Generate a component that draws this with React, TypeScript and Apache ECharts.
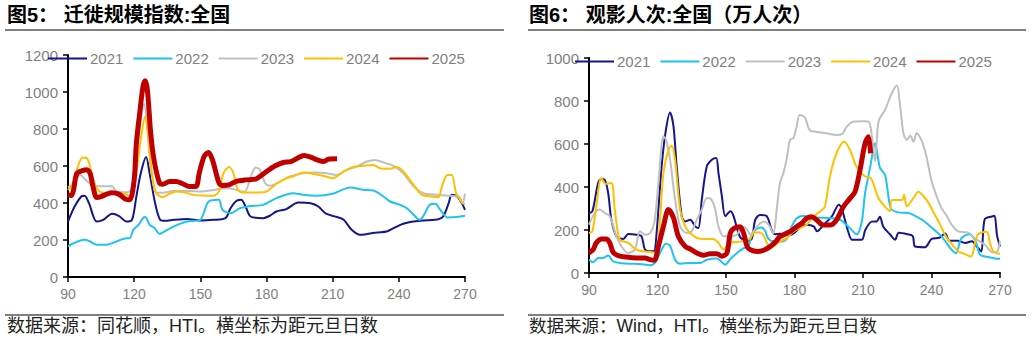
import React, { useEffect, useRef } from "react";
import * as echarts from "echarts";

const years = ["2021", "2022", "2023", "2024", "2025"];
const colors = ["#15158C", "#1EC3F3", "#BFBFBF", "#FFC000", "#C00000"];
const widths = [2, 2, 2, 2, 5];
const xMin = 90;
const xMax = 270;
const xInterval = 30;

// 图5 迁徙规模指数 [距元旦日数, 值]
const migration2021: [number, number][] = [
  [90, 300], [93, 381], [96, 435], [97.5, 439], [99.5, 399], [103, 300], [106, 309], [110, 342], [113, 331],
  [116.5, 300], [119, 309], [121, 435], [123, 561], [125.4, 648], [127, 561], [129.5, 399], [131.8, 309],
  [134, 304], [138, 309], [144, 313], [150, 306], [156, 309], [161.4, 318], [163.7, 372], [166.7, 414],
  [168.5, 417], [170.5, 381], [172.8, 327], [178.5, 318], [181.5, 331], [184.5, 354], [189, 367], [194.4, 403],
  [200, 399], [203.5, 381], [207, 342], [212, 324], [215, 309], [218.6, 255], [222.4, 228], [225.5, 232],
  [230, 241], [234.5, 246], [237.6, 264], [242, 288], [246.7, 300], [251, 306], [256.5, 309], [260, 327],
  [262.6, 399], [264, 444], [266.4, 435], [268.6, 399], [270, 363],
];
const migration2022: [number, number][] = [
  [90, 165], [92, 180], [97.5, 201], [100, 192], [103, 175], [107.5, 175], [112, 192], [116.6, 210], [118, 210],
  [119.6, 255], [122, 282], [124, 318], [125, 324], [127, 282], [129.3, 264], [131.5, 234], [135, 255],
  [139.6, 282], [144, 300], [150, 309], [151.5, 345], [153.8, 408], [158.4, 417], [160, 363], [163.7, 345],
  [168, 372], [172, 383], [178.5, 390], [184.5, 426], [192, 453], [196.7, 444], [202.7, 439], [210, 450],
  [218, 484], [224, 471], [228.5, 468], [233, 435], [236, 408], [240.6, 390], [243.6, 372], [246.7, 336],
  [249.4, 309], [251, 327], [254, 390], [256.5, 396], [258.8, 363], [262, 322], [266.4, 324], [270, 331],
];
const migration2023: [number, number][] = [
  [90, 485], [92, 500], [95.6, 551], [98, 525], [101, 495], [104, 490], [110, 490], [112, 462], [117, 458],
  [119, 480], [121, 650], [123, 850], [124.5, 935], [126, 800], [127.5, 600], [129.5, 462], [132, 455],
  [138, 465], [145, 465], [150, 462], [156, 470], [162, 480], [165, 475], [170, 460], [172.8, 540], [175, 592],
  [177, 579], [179.4, 507], [181.7, 493], [186.2, 516], [190.6, 543], [196.7, 561], [202.7, 565], [207.3, 561],
  [211.8, 552], [216.4, 579], [220.9, 597], [225.5, 624], [229.2, 633], [233, 619], [237.6, 601], [242, 561],
  [246.7, 489], [251.2, 453], [257.3, 444], [263.3, 439], [267.1, 435], [268.9, 399], [270, 450],
];
const migration2024: [number, number][] = [
  [90, 470], [92, 500], [94, 580], [96.5, 645], [98, 645], [99.5, 620], [101, 540], [103, 480], [105, 458],
  [108, 455], [112, 455], [116, 450], [118.5, 432], [120.5, 520], [122.5, 700], [125, 867], [126.5, 741],
  [128, 561], [130, 453], [133, 432], [136, 450], [139, 462], [142, 460], [147, 444], [151, 440], [156, 439],
  [158.4, 462], [160.5, 561], [163, 594], [165, 561], [167, 471], [169.5, 457], [177, 457], [180, 462],
  [184.5, 504], [189, 534], [192, 543], [196.7, 565], [202.7, 554], [207, 543], [210, 534], [215, 570],
  [219, 594], [224, 601], [228.5, 606], [231.5, 588], [236, 585], [239, 594], [242, 570], [246.7, 498],
  [250.5, 444], [255, 435], [258, 432], [259.5, 489], [262, 552], [264, 552], [266, 453], [269, 399], [270, 396],
];
const migration2025: [number, number][] = [
  [90, 444], [91.5, 440], [92.5, 470], [94, 560], [96.5, 575], [98.5, 580], [100, 561], [101.5, 480], [103, 430],
  [105, 435], [108, 450], [110, 455], [113, 448], [116, 421], [118, 417], [120, 525], [121, 723], [122.5, 885],
  [124, 1029], [125, 1061], [126, 1011], [127.5, 777], [129, 633], [131.5, 507], [133, 502], [136, 516],
  [139, 516], [142, 504], [145, 489], [148, 489], [149.5, 561], [151.7, 651], [153.7, 673], [155.5, 633],
  [158.5, 507], [160, 495], [163, 498], [166, 516], [170.5, 525], [175, 529], [177, 543], [180, 570],
  [184, 601], [187.6, 619], [191, 624], [194, 642], [197, 657], [200, 648], [203, 633], [206, 624], [208, 637],
  [212, 639],
];

// 图6 观影人次（万人次）[距元旦日数, 值]
const movie2021: [number, number][] = [
  [90, 279], [91.5, 287], [94, 419], [95.4, 437], [96.9, 434], [98.4, 372], [99.8, 248], [102, 171], [105, 158],
  [107.2, 181], [110.8, 178], [113, 171], [114.5, 109], [116.7, 101], [118.4, 101], [119.6, 186], [121.8, 496],
  [123.7, 667], [125.5, 747], [127, 682], [128.4, 496], [130.6, 264], [132.1, 240], [134.3, 248], [136.5, 217],
  [137.9, 209], [139.4, 341], [141.6, 496], [143.8, 527], [145.7, 535], [146.7, 465], [148.2, 357], [149.7, 264],
  [151.9, 287], [153.3, 265], [156.1, 169], [159, 150], [161.3, 160], [162.8, 247], [164.9, 270], [167.8, 265],
  [170, 200], [171.5, 180], [173.6, 182], [178.3, 178], [182.6, 212], [185.5, 225], [188.4, 217], [189.9, 194],
  [192.8, 225], [196.4, 264], [199.4, 318], [200.8, 295], [203.7, 186], [205.2, 155], [209.5, 155], [211, 200],
  [213.8, 239], [216, 240], [217.4, 262], [218.9, 215], [221.8, 180], [224.1, 155], [225.6, 187], [229.5, 180],
  [231.8, 172], [232.8, 123], [237.2, 120], [240, 158], [243.4, 164], [246, 184], [247.8, 150], [251.5, 150],
  [254.8, 140], [257.7, 148], [259.9, 122], [261.8, 100], [263.3, 250], [266.5, 263], [267.6, 266], [268.7, 175],
  [270, 123],
];
const movie2022: [number, number][] = [
  [90, 62], [91.8, 50], [94, 70], [96.2, 70], [98.4, 81], [100.6, 54], [103.5, 47], [107.9, 43], [112.3, 42],
  [116.7, 36], [118.9, 47], [121.1, 93], [123.7, 136], [125.5, 127], [127.7, 62], [129.9, 43], [134.3, 47],
  [138.7, 47], [141.6, 62], [146, 67], [149.7, 39], [151.9, 65], [154.7, 92], [157.6, 115], [159.8, 122],
  [161.3, 180], [163.4, 205], [165.6, 212], [167.1, 196], [168.5, 160], [170.7, 147], [173.6, 146], [176.5, 158],
  [178.7, 215], [181, 255], [183.8, 265], [189.7, 258], [195.5, 255], [199.9, 248], [204.3, 208], [207.2, 180],
  [209.4, 235], [210.9, 370], [213.1, 490], [215.3, 604], [217.4, 490], [219.7, 455], [222.2, 300],
  [225.5, 282], [229.9, 279], [232.8, 266], [236.5, 243], [240.2, 210], [244.5, 169], [248.5, 112], [250.7, 92],
  [253, 160], [256.5, 180], [259.2, 150], [261.3, 85], [265, 74], [269.4, 66], [270, 66],
];
const movie2023: [number, number][] = [
  [90, 225], [92.5, 279], [94.7, 295], [96.9, 279], [99.1, 264], [102, 171], [104.2, 124], [107.2, 93],
  [110.1, 109], [112.3, 194], [114.5, 178], [116.7, 186], [118.6, 233], [120.4, 419], [122.6, 636], [123.7, 620],
  [125.5, 527], [127.7, 341], [129.9, 217], [132.8, 186], [135, 194], [137.2, 248], [139.4, 295], [141.6, 349],
  [143.5, 344], [145.3, 295], [146.7, 217], [148.9, 171], [151.9, 171], [154.8, 178], [157, 217], [159.2, 202],
  [160.7, 178], [163.6, 217], [166.5, 240], [168.7, 225], [170.7, 185], [172.2, 293], [173.6, 417],
  [175.1, 464], [176.5, 526], [178, 619], [179.5, 628], [180.9, 680], [182.3, 735], [184.5, 725], [186.6, 665],
  [189.5, 657], [194, 650], [198.4, 642], [201, 648], [202.8, 680], [205.7, 704], [210.1, 706], [212.5, 704],
  [213.9, 636], [215.3, 520], [216.8, 704], [219.7, 760], [222.6, 836], [224.8, 872], [226.3, 774],
  [227.7, 650], [229.2, 619], [230.7, 640], [232.1, 611], [233.5, 650], [235.7, 615], [237.6, 550],
  [240, 430], [242.3, 355], [244.5, 300], [246.7, 265], [248.5, 230], [251.5, 195], [256.2, 188], [259.2, 160],
  [263.5, 130], [266.8, 96], [268.8, 100], [270, 150],
];
const movie2024: [number, number][] = [
  [90, 186], [91.5, 194], [93.2, 310], [95.4, 442], [97.3, 415], [99.8, 419], [101.3, 295], [103.5, 155],
  [107.2, 140], [110.8, 109], [113.8, 101], [118.2, 96], [119.6, 85], [121.1, 248], [122.6, 465], [124.8, 574],
  [126.2, 592], [127.7, 527], [129.9, 295], [132.1, 217], [134.3, 186], [137.2, 163], [140.9, 158], [144.5, 158],
  [146.7, 140], [148.9, 109], [151.9, 140], [156.1, 146], [160.5, 160], [162, 185], [164.5, 190], [166.3, 177],
  [168.5, 130], [170.7, 125], [173.6, 146], [176.5, 161], [179.4, 192], [182.3, 208], [185.2, 223], [188.2, 262],
  [191.1, 285], [193.3, 308], [195.5, 448], [198.4, 557], [201.8, 612], [204.3, 572], [207.2, 494],
  [210.5, 452], [213.5, 440], [216.7, 350], [219.5, 310], [221.8, 288], [222.6, 340], [227.2, 340],
  [228, 364], [229.2, 310], [232.1, 349], [234.3, 378], [236.5, 357], [238.7, 326], [240.5, 290], [243.8, 225],
  [246, 175], [248.8, 135], [251.9, 100], [254.7, 88], [257.3, 76], [259.5, 160], [260.6, 182], [264.2, 192],
  [265.6, 140], [267, 100], [268.5, 92], [270, 90],
];
const movie2025: [number, number][] = [
  [90, 93], [91.8, 109], [93.2, 140], [95.4, 158], [97.6, 158], [99.1, 140], [100.6, 96], [102.8, 81],
  [106.4, 74], [110.8, 70], [114.5, 70], [116.7, 62], [118.6, 59], [120.4, 124], [122.6, 217], [124.8, 295],
  [127, 256], [129.1, 171], [132.1, 124], [134.3, 112], [137.2, 93], [140.1, 82], [143.1, 90], [146, 90],
  [148.2, 78], [150.4, 93], [151.9, 186], [153.5, 208], [156.1, 215], [157.7, 186], [159.2, 124], [160.7, 108],
  [163.6, 100], [166.5, 106], [169.5, 124], [171.7, 145], [173.6, 169], [178, 192], [180.9, 215], [183.1, 231],
  [185.3, 254], [187.5, 262], [189.7, 247], [192.6, 223], [195.5, 223], [198.4, 247], [201.4, 308], [204.3, 347],
  [206.5, 378], [208.7, 479], [210.9, 603], [212.4, 634], [213.3, 557],
];

const migrationSeries = [migration2021, migration2022, migration2023, migration2024, migration2025];
const movieSeries = [movie2021, movie2022, movie2023, movie2024, movie2025];

const titleLeft = "图5： 迁徙规模指数:全国";
const titleRight = "图6： 观影人次:全国（万人次）";
const sourceLeft = "数据来源：同花顺，HTI。横坐标为距元旦日数";
const sourceRight = "数据来源：Wind，HTI。横坐标为距元旦日数";

const NUM_FONT = "'Liberation Sans', Arial, sans-serif";
const CJK_FONT = "'Liberation Sans', 'Noto Sans CJK SC', sans-serif";

function makeX(idx: number) {
  return {
    type: "value",
    gridIndex: idx,
    min: xMin,
    max: xMax,
    interval: xInterval,
    axisLine: { show: true, onZero: false, lineStyle: { color: "#000", width: 2 } },
    axisTick: { show: true, inside: false, length: 5, lineStyle: { color: "#000", width: 1.5 } },
    axisLabel: { color: "#7F7F7F", fontSize: 14, fontFamily: NUM_FONT, margin: 10, formatter: (v: number) => String(v) },
    splitLine: { show: false },
  };
}
function makeY(idx: number, max: number) {
  return {
    type: "value",
    gridIndex: idx,
    min: 0,
    max,
    interval: 200,
    axisLine: { show: true, lineStyle: { color: "#000", width: 2 } },
    axisTick: { show: true, inside: false, length: 5, lineStyle: { color: "#000", width: 1.5 } },
    axisLabel: { color: "#7F7F7F", fontSize: 15, fontFamily: NUM_FONT, margin: 10, formatter: (v: number) => String(v) },
    splitLine: { show: false },
  };
}

export default function App() {
  const ref = useRef<HTMLDivElement>(null);
  useEffect(() => {
    if (!ref.current) return;
    const chart = echarts.init(ref.current, undefined, { renderer: "svg" });
    const series: any[] = [];
    [migrationSeries, movieSeries].forEach((group, gi) => {
      group.forEach((data, j) => {
        series.push({
          type: "line",
          name: years[j],
          xAxisIndex: gi,
          yAxisIndex: gi,
          data,
          symbol: "none",
          showSymbol: false,
          smooth: 0.3,
          lineStyle: { color: colors[j], width: widths[j] },
          itemStyle: { color: colors[j] },
          z: 2 + j,
        });
      });
    });
    const legendBase = {
      data: years,
      orient: "horizontal",
      padding: 0,
      itemWidth: 39,
      itemHeight: 12,
      itemGap: 9,
      selectedMode: false,
      itemStyle: { opacity: 0 },
      textStyle: { color: "#7F7F7F", fontSize: 15, fontFamily: NUM_FONT, padding: [0, 0, 0, -2] },
    };
    chart.setOption({
      animation: false,
      backgroundColor: "#fff",
      grid: [
        { left: 68, top: 55, width: 397, height: 222, containLabel: false },
        { left: 589, top: 58, width: 411, height: 215, containLabel: false },
      ],
      xAxis: [makeX(0), makeX(1)],
      yAxis: [makeY(0, 1200), makeY(1, 1000)],
      legend: [
        { ...legendBase, left: 47, top: 51 },
        { ...legendBase, left: 574, top: 54 },
      ],
      series,
      graphic: [
        { type: "text", left: 7, top: 5, style: { text: titleLeft, font: `bold 20px ${CJK_FONT}`, fill: "#000" } },
        { type: "text", left: 529, top: 5, style: { text: titleRight, font: `bold 20px ${CJK_FONT}`, fill: "#000" } },
        { type: "line", shape: { x1: 5, y1: 30, x2: 504, y2: 30 }, style: { stroke: "#555", lineWidth: 1.5 } },
        { type: "line", shape: { x1: 528, y1: 30, x2: 1026, y2: 30 }, style: { stroke: "#555", lineWidth: 1.5 } },
        { type: "line", shape: { x1: 5, y1: 315, x2: 504, y2: 315 }, style: { stroke: "#555", lineWidth: 1.5 } },
        { type: "line", shape: { x1: 528, y1: 315, x2: 1026, y2: 315 }, style: { stroke: "#555", lineWidth: 1.5 } },
        { type: "text", left: 7, top: 317, style: { text: sourceLeft, font: `18px ${CJK_FONT}`, fill: "#222" } },
        { type: "text", left: 529, top: 317, style: { text: sourceRight, font: `17.5px ${CJK_FONT}`, fill: "#222" } },
      ],
    });
    return () => chart.dispose();
  }, []);
  return (
    <div
      ref={ref}
      style={{ position: "absolute", left: 0, top: 0, width: 1032, height: 342, background: "#fff" }}
    />
  );
}
